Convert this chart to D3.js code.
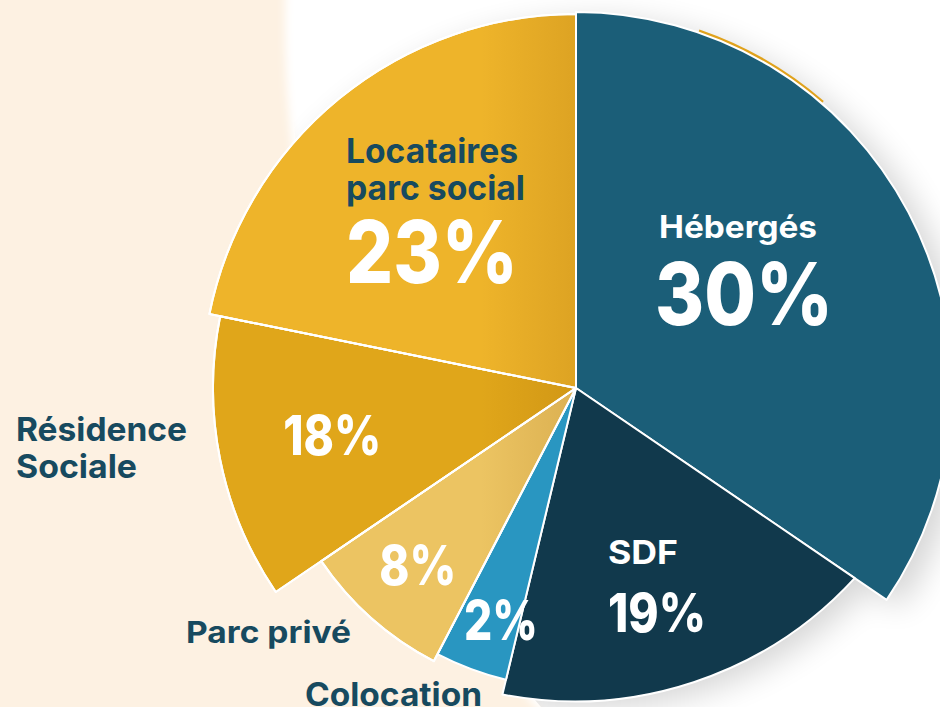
<!DOCTYPE html>
<html>
<head>
<meta charset="utf-8">
<script src="https://cdn.jsdelivr.net/npm/d3@7"></script>
<style>
  html, body { margin: 0; padding: 0; background: #fdf1e2; }
  svg { display: block; }
</style>
</head>
<body>
<svg id="chart" width="940" height="707"></svg>
<script>
// ---------- data ----------
const categories   = ["Hébergés", "SDF", "Colocation", "Parc privé", "Résidence Sociale", "Locataires parc social"];
const percentages  = [30, 19, 2, 8, 18, 23];                    // printed values
const sliceDegrees = [124.3, 69.2, 14.0, 28.3, 45.6, 78.6];     // angular size of each slice as drawn
const nameLines    = [["Hébergés"], ["SDF"], ["Colocation"], ["Parc privé"], ["Résidence", "Sociale"], ["Locataires", "parc social"]];

// ---------- styling ----------
const outerRadii = [376, 330, 300, 308, 363, 374];
const colors     = ["#1b5e78", "#11394c", "#2996c1", "#ecc462", "#e0a61a", "#eeb42a"];
const DARK = "#174a5f";
const FONT = "Inter, 'Noto Sans', sans-serif";

// label layout: name block + percent (x = left or centre, y = baseline)
const labelLayout = [
  { nx: 738, ny: [237.5], nAnchor: "middle", nSize: 31, nW: [158], nColor: "#fff",
    px: 744, py: 325, pAnchor: "middle", pSize: 87, pW: 178 },
  { nx: 608, ny: [564], nAnchor: "start", nSize: 33, nW: [70], nColor: "#fff",
    px: 608, py: 631.7, pAnchor: "start", pSize: 53, pW: 98 },
  { nx: 305, ny: [706], nAnchor: "start", nSize: 32, nW: [177], nColor: DARK,
    px: 464, py: 640, pAnchor: "start", pSize: 55, pW: 74 },
  { nx: 186, ny: [643.3], nAnchor: "start", nSize: 30, nW: [165], nColor: DARK,
    px: 379.3, py: 585, pAnchor: "start", pSize: 55, pW: 77 },
  { nx: 16, ny: [441, 478.3], nAnchor: "start", nSize: 33, nW: [171, 121], nColor: DARK,
    px: 283.3, py: 455, pAnchor: "start", pSize: 55, pW: 98 },
  { nx: 346, ny: [162.7, 200], nAnchor: "start", nSize: 33.5, nW: [172, 179], nColor: DARK,
    px: 346, py: 283.3, pAnchor: "start", pSize: 87, pW: 172 }
];

const W = 940, H = 707;
const cx = 576, cy = 388;

const svg = d3.select("#chart");
const defs = svg.append("defs");

// background
svg.append("rect").attr("width", W).attr("height", H).attr("fill", "#fdf1e2");

// white "paper" disc behind the pie
const paper = { cx: 1338, cy: 25, r: 1053 };
defs.append("filter").attr("id", "soft")
  .append("feGaussianBlur").attr("stdDeviation", 4);
svg.append("circle").attr("cx", paper.cx).attr("cy", paper.cy).attr("r", paper.r)
  .attr("fill", "#fff").attr("filter", "url(#soft)");
defs.append("clipPath").attr("id", "paperClip")
  .append("circle").attr("cx", paper.cx).attr("cy", paper.cy).attr("r", paper.r - 4);

// ---------- pie geometry ----------
const data = categories.map((c, i) => ({ name: c, pct: percentages[i], deg: sliceDegrees[i], i }));
const pie = d3.pie().sort(null).value(d => d.deg);
const arcs = pie(data);

// SDF outer edge follows a circle whose centre is shifted from the pie centre
const outerShift = { 1: { sx: -1.7, sy: -67.3, R: 380.7 } };

function rayHit(a, s) {
  const ux = Math.sin(a), uy = -Math.cos(a);
  const dx = -s.sx, dy = -s.sy;
  const du = dx * ux + dy * uy;
  const t = -du + Math.sqrt(du * du - (dx * dx + dy * dy) + s.R * s.R);
  return [t * ux, t * uy];
}

function slicePath(d) {
  const i = d.data.i;
  const s = outerShift[i];
  if (!s) return d3.arc().innerRadius(0).outerRadius(outerRadii[i])(d);
  const p1 = rayHit(d.startAngle, s), p2 = rayHit(d.endAngle, s);
  const a1 = Math.atan2(p1[1] - s.sy, p1[0] - s.sx);
  const a2 = Math.atan2(p2[1] - s.sy, p2[0] - s.sx);
  const p = d3.path();
  p.moveTo(0, 0);
  p.lineTo(p1[0], p1[1]);
  p.arc(s.sx, s.sy, s.R, a1, a2, false);
  p.closePath();
  return p.toString();
}

// ---------- drop shadow (only on the white paper) ----------
const shf = defs.append("filter").attr("id", "shadowBlur")
  .attr("x", "-30%").attr("y", "-30%").attr("width", "160%").attr("height", "160%");
shf.append("feGaussianBlur").attr("stdDeviation", 16);

svg.append("g").attr("clip-path", "url(#paperClip)")
  .append("g")
  .attr("transform", `translate(${cx + 14},${cy + 8})`)
  .attr("filter", "url(#shadowBlur)")
  .attr("opacity", 0.16)
  .selectAll("path").data(arcs).join("path")
  .attr("d", slicePath).attr("fill", "#000");

// ---------- slices ----------
const g = svg.append("g").attr("transform", `translate(${cx},${cy})`);

// thin golden sliver peeking out behind the top of "Hébergés"
g.append("path")
  .attr("d", d3.arc().innerRadius(360).outerRadius(379.2)
    .startAngle(19 * Math.PI / 180).endAngle(40.8 * Math.PI / 180)())
  .attr("fill", "#e0a21c");

g.selectAll("path.slice").data(arcs).join("path")
  .attr("class", "slice")
  .attr("d", slicePath)
  .attr("fill", d => colors[d.data.i])
  .attr("stroke", "#fff")
  .attr("stroke-width", 2)
  .attr("stroke-linejoin", "round");

// shade on the golden slices next to the centre line
const shade = defs.append("linearGradient").attr("id", "shade")
  .attr("gradientUnits", "userSpaceOnUse")
  .attr("x1", -95).attr("y1", 0).attr("x2", 0).attr("y2", 0);
shade.append("stop").attr("offset", 0).attr("stop-color", "#8a5000").attr("stop-opacity", 0);
shade.append("stop").attr("offset", 1).attr("stop-color", "#8a5000").attr("stop-opacity", 0.17);

g.selectAll("path.shade").data(arcs.filter(d => d.data.i >= 3)).join("path")
  .attr("class", "shade")
  .attr("d", slicePath)
  .attr("fill", "url(#shade)")
  .attr("stroke", "#fff")
  .attr("stroke-width", 2)
  .attr("stroke-linejoin", "round");

// ---------- labels ----------
const lab = svg.append("g").attr("font-family", FONT);

arcs.forEach(d => {
  const i = d.data.i, L = labelLayout[i];
  nameLines[i].forEach((line, k) => {
    lab.append("text")
      .attr("x", L.nx).attr("y", L.ny[k])
      .attr("text-anchor", L.nAnchor)
      .attr("font-size", L.nSize)
      .attr("font-weight", 700)
      .attr("fill", L.nColor)
      .attr("textLength", L.nW[k])
      .attr("lengthAdjust", "spacingAndGlyphs")
      .text(line);
  });
  lab.append("text")
    .attr("x", L.px).attr("y", L.py)
    .attr("text-anchor", L.pAnchor)
    .attr("font-size", L.pSize)
    .attr("font-weight", 800)
    .attr("fill", "#fff")
    .attr("textLength", L.pW)
    .attr("lengthAdjust", "spacingAndGlyphs")
    .text(d.data.pct + "%");
});
</script>
</body>
</html>
